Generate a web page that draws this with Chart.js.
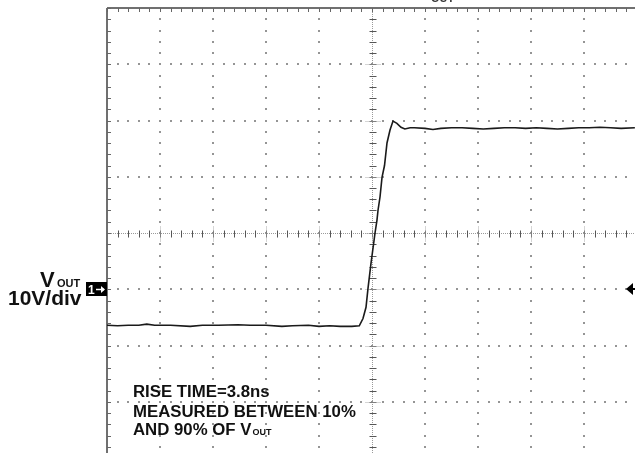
<!DOCTYPE html>
<html>
<head>
<meta charset="utf-8">
<script src="https://cdn.jsdelivr.net/npm/chart.js@4.4.1/dist/chart.umd.min.js"></script>
<style>
  html, body { margin: 0; padding: 0; background: #fff; overflow: hidden; }
  #wrap { position: absolute; left: 0; top: 0; width: 645px; height: 460px; }
</style>
</head>
<body>
<div id="wrap"><canvas id="c"></canvas></div>
<script>
// Time axis: 10 ns/div, voltage axis: 10 V/div (ground marker at 0 V)
const xTicks = [0, 10, 20, 30, 40, 50, 60, 70, 80, 90, 100];
const yTicks = [-30, -20, -10, 0, 10, 20, 30, 40, 50];

// Waveform (ns, V)
const timeNs = [
  0, 2, 4, 6, 7.5, 9, 12, 15.7, 18, 21, 24.7, 27, 30, 33, 35, 38, 40, 42, 44, 46.2, 47.6,
  48.3, 48.87, 49.25, 49.81, 50.57, 50.94, 51.13, 51.51, 51.89, 52.36, 52.83, 53.4, 53.96,
  54.7, 55.47, 56.2, 57.2,
  58, 60, 61.5, 63, 65, 67, 69, 71, 73, 75, 77, 79, 81, 83, 85, 87, 89, 91, 93, 95, 97, 99.6
];
const voltage = [
  -6.4, -6.5, -6.4, -6.4, -6.2, -6.4, -6.4, -6.6, -6.4, -6.4, -6.3, -6.4, -6.4, -6.6, -6.5, -6.4, -6.6, -6.5, -6.6, -6.6, -6.5,
  -5.2, -3.2, 0.2, 4.6, 10.0, 12.3, 14.0, 16.4, 19.9, 22.0, 26.0, 28.3, 29.9,
  29.5, 28.8, 28.5, 28.7,
  28.7, 28.6, 28.4, 28.6, 28.7, 28.7, 28.6, 28.5, 28.6, 28.7, 28.7, 28.6, 28.7, 28.6, 28.5, 28.6, 28.7, 28.7, 28.8, 28.7, 28.6, 28.7
];

const points = timeNs.map((t, i) => ({ x: t, y: voltage[i] }));

const scopeGrid = {
  id: 'scopeGrid',
  beforeDatasetsDraw(chart) {
    const ctx = chart.ctx;
    const xs = chart.scales.x, ys = chart.scales.y;
    const xMin = xTicks[0], xMax = xTicks[xTicks.length - 1];
    const yMin = yTicks[0], yMax = yTicks[yTicks.length - 1];
    const xCenter = (xMin + xMax) / 2, yCenter = (yMin + yMax) / 2;
    const xMinor = 2, yMinor = 2;
    const top = ys.getPixelForValue(yMax), bottom = ys.getPixelForValue(yMin);
    const left = xs.getPixelForValue(xMin), right = xs.getPixelForValue(xMax);
    ctx.save();
    // dotted major grid lines
    ctx.fillStyle = '#959595';
    xTicks.forEach(v => {
      if (v === xMin || v === xMax || v === xCenter) return;
      const px = Math.round(xs.getPixelForValue(v));
      for (let y = yMin; y <= yMax; y += yMinor) {
        const py = Math.round(ys.getPixelForValue(y));
        ctx.fillRect(px - 1, py - 1, 2, 2);
      }
    });
    yTicks.forEach(v => {
      if (v === yMin || v === yMax || v === yCenter) return;
      const py = Math.round(ys.getPixelForValue(v));
      for (let x = xMin; x <= xMax; x += xMinor) {
        const px = Math.round(xs.getPixelForValue(x));
        ctx.fillRect(px - 1, py - 1, 2, 2);
      }
    });
    // center cross lines
    const cx = Math.round(xs.getPixelForValue(xCenter)) + 0.5;
    const cy = Math.round(ys.getPixelForValue(yCenter)) + 0.5;
    ctx.strokeStyle = '#9a9a9a';
    ctx.lineWidth = 1;
    ctx.setLineDash([1, 1]);
    ctx.beginPath();
    ctx.moveTo(cx, top); ctx.lineTo(cx, bottom);
    ctx.moveTo(left, cy); ctx.lineTo(right, cy);
    ctx.stroke();
    ctx.setLineDash([]);
    // ticks on center cross
    ctx.strokeStyle = '#555';
    ctx.beginPath();
    for (let y = yMin; y <= yMax; y += yMinor) {
      const py = Math.round(ys.getPixelForValue(y)) + 0.5;
      ctx.moveTo(cx - 3, py); ctx.lineTo(cx + 4, py);
    }
    for (let x = xMin; x <= xMax; x += xMinor) {
      const px = Math.round(xs.getPixelForValue(x)) + 0.5;
      ctx.moveTo(px, cy - 3); ctx.lineTo(px, cy + 4);
    }
    ctx.stroke();
    // longer faint ticks at major positions on the cross
    ctx.strokeStyle = '#aaa';
    ctx.setLineDash([1, 1]);
    ctx.beginPath();
    yTicks.forEach(v => {
      const py = Math.round(ys.getPixelForValue(v)) + 0.5;
      ctx.moveTo(cx - 7, py); ctx.lineTo(cx + 8, py);
    });
    xTicks.forEach(v => {
      const px = Math.round(xs.getPixelForValue(v)) + 0.5;
      ctx.moveTo(px, cy - 7); ctx.lineTo(px, cy + 8);
    });
    ctx.stroke();
    ctx.setLineDash([]);
    // borders (left and top) with minor ticks
    ctx.strokeStyle = '#707070';
    ctx.lineWidth = 2;
    ctx.beginPath();
    ctx.moveTo(left, top); ctx.lineTo(left, bottom);
    ctx.moveTo(left, top); ctx.lineTo(right, top);
    ctx.stroke();
    ctx.lineWidth = 1;
    ctx.strokeStyle = '#666';
    ctx.beginPath();
    for (let y = yMin; y <= yMax; y += yMinor) {
      const py = Math.round(ys.getPixelForValue(y)) + 0.5;
      ctx.moveTo(left, py); ctx.lineTo(left + 4, py);
    }
    for (let x = xMin; x <= xMax; x += xMinor) {
      const px = Math.round(xs.getPixelForValue(x)) + 0.5;
      ctx.moveTo(px, top); ctx.lineTo(px, top + 4);
    }
    ctx.stroke();
    ctx.restore();
  },
  afterDraw(chart) {
    const ctx = chart.ctx;
    const xs = chart.scales.x, ys = chart.scales.y;
    const F = '"Liberation Sans", Arial, Helvetica, sans-serif';
    const gy = Math.round(ys.getPixelForValue(0));
    const left = xs.getPixelForValue(0);
    ctx.save();
    ctx.fillStyle = '#111';
    ctx.textBaseline = 'alphabetic';
    // left channel label
    ctx.font = 'bold 22px ' + F;
    ctx.fillText('V', 40, 287);
    ctx.font = 'bold 11px ' + F;
    ctx.fillText('OUT', 57, 287);
    ctx.font = 'bold 21px ' + F;
    ctx.fillText('10V/div', 8, 305);
    // channel marker box
    ctx.fillStyle = '#000';
    ctx.fillRect(86, gy - 7, left - 86, 14);
    ctx.fillStyle = '#fff';
    ctx.font = 'bold 12px ' + F;
    ctx.fillText('1', 88, gy + 5);
    ctx.strokeStyle = '#fff';
    ctx.lineWidth = 1.5;
    ctx.beginPath();
    ctx.moveTo(96, gy + 0.5); ctx.lineTo(104, gy + 0.5);
    ctx.stroke();
    ctx.beginPath();
    ctx.moveTo(105, gy + 0.5); ctx.lineTo(101, gy - 3); ctx.lineTo(101, gy + 4); ctx.closePath();
    ctx.fill();
    // right trigger arrow
    ctx.fillStyle = '#000';
    ctx.beginPath();
    ctx.moveTo(626, gy); ctx.lineTo(633, gy - 6); ctx.lineTo(633, gy + 6); ctx.closePath();
    ctx.fill();
    ctx.fillRect(632, gy - 1, 4, 2);
    // partial top label
    ctx.fillStyle = '#333';
    ctx.font = 'bold 20px ' + F;
    ctx.fillText('V', 414, -2);
    ctx.font = 'bold 11px ' + F;
    ctx.fillText('OUT', 431, 2);
    ctx.font = 'bold 20px ' + F;
    ctx.fillText('1', 478, -1);
    // annotation
    ctx.fillStyle = '#111';
    ctx.font = 'bold 16.8px ' + F;
    ctx.fillText('RISE TIME=3.8ns', 133, 397);
    ctx.fillText('MEASURED BETWEEN 10%', 133, 417);
    const s = 'AND 90% OF V';
    ctx.fillText(s, 133, 435);
    const w = ctx.measureText(s).width;
    ctx.font = 'bold 9px ' + F;
    ctx.fillText('OUT', 133 + w + 1, 435);
    ctx.restore();
  }
};

new Chart(document.getElementById('c'), {
  type: 'scatter',
  data: {
    datasets: [{
      data: points,
      showLine: true,
      borderColor: '#1a1a1a',
      borderWidth: 1.6,
      pointRadius: 0,
      tension: 0,
      fill: false
    }]
  },
  options: {
    responsive: true,
    maintainAspectRatio: false,
    animation: false,
    layout: { padding: { left: 107, right: 8, top: 8, bottom: 2 } },
    plugins: { legend: { display: false }, tooltip: { enabled: false } },
    scales: {
      x: { type: 'linear', min: xTicks[0], max: xTicks[xTicks.length - 1], display: false },
      y: { type: 'linear', min: yTicks[0], max: yTicks[yTicks.length - 1], display: false }
    }
  },
  plugins: [scopeGrid]
});
</script>
</body>
</html>
